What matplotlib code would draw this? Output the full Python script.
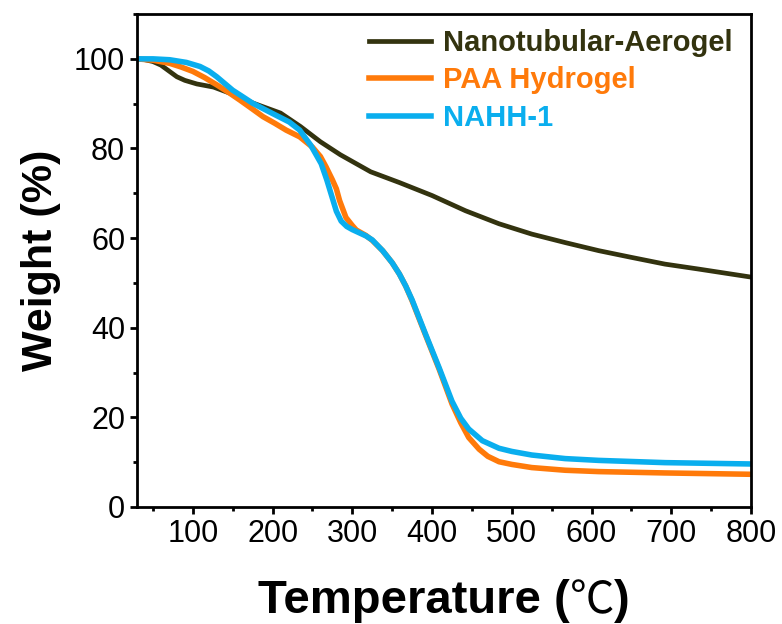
import numpy as np
import matplotlib
matplotlib.use('Agg')
import matplotlib.pyplot as plt
from matplotlib.ticker import MultipleLocator

# colours
Olive = '#33330f'
Orange = '#ff7a0a'
Sky = '#0aaeee'

# Nanotubular-Aerogel
t_aero = [30, 40, 50, 60, 70, 80, 90, 105, 126, 147, 176, 210, 235, 260, 285,
          323, 359, 400, 442, 484, 525, 567, 609, 650, 692, 734, 800]
w_aero = [100, 99.8, 99.4, 98.6, 97.3, 96.0, 95.2, 94.4, 93.7, 92.3, 90.1, 87.9,
          84.9, 81.5, 78.6, 74.8, 72.4, 69.5, 66.1, 63.2, 60.9, 59.0, 57.2, 55.7,
          54.2, 53.1, 51.3]

# PAA Hydrogel
t_paa = [30, 50, 71, 85, 100, 115, 130, 145, 159, 174, 188, 203, 217, 234, 250,
         260, 267, 275, 280, 284, 292, 300, 305, 317, 325, 338, 350, 359, 367,
         375, 392, 409, 425, 436, 446, 459, 470, 484, 500, 525, 567, 609, 692, 800]
w_paa = [100, 99.7, 99.0, 98.2, 97.2, 95.8, 94.2, 92.5, 90.8, 88.9, 87.1, 85.6,
         84.1, 82.6, 80.3, 78.2, 75.9, 73.0, 71.0, 68.4, 64.6, 62.8, 61.8, 60.6,
         59.5, 57.2, 54.5, 52.0, 49.3, 46.0, 38.3, 30.7, 23.0, 18.8, 15.5, 12.9,
         11.3, 10.1, 9.5, 8.8, 8.2, 7.9, 7.6, 7.3]

# NAHH-1
t_nahh = [30, 50, 71, 92, 109, 120, 130, 140, 150, 163, 175, 188, 200, 221, 234,
          248, 261, 268, 274, 280, 286, 293, 300, 317, 325, 338, 350, 359, 367,
          375, 392, 409, 425, 436, 446, 463, 484, 500, 525, 567, 609, 692, 800]
w_nahh = [100, 100, 99.8, 99.2, 98.3, 97.3, 96.0, 94.5, 93.0, 91.5, 90.1, 88.9,
          87.8, 85.9, 84.1, 80.7, 76.6, 73.0, 69.5, 66.0, 63.8, 62.6, 61.9, 60.5,
          59.6, 57.2, 54.5, 52.0, 49.3, 46.2, 38.5, 31.0, 23.6, 19.8, 17.4, 14.8,
          13.1, 12.4, 11.6, 10.8, 10.4, 9.9, 9.6]

plt.rcParams['font.family'] = ['Liberation Sans', 'DejaVu Sans']

fig = plt.figure(figsize=(7.82, 6.24), dpi=100)
ax = fig.add_axes([0.1752, 0.1875, 0.7852, 0.790])

ax.plot(t_aero, w_aero, color=Olive, lw=3.4, label='Nanotubular-Aerogel')
ax.plot(t_paa, w_paa, color=Orange, lw=4, label='PAA Hydrogel')
ax.plot(t_nahh, w_nahh, color=Sky, lw=4, label='NAHH-1')

ax.set_xlim(30, 800)
ax.set_ylim(0, 110)
ax.xaxis.set_major_locator(MultipleLocator(100))
ax.xaxis.set_minor_locator(MultipleLocator(50))
ax.yaxis.set_major_locator(MultipleLocator(20))
ax.yaxis.set_minor_locator(MultipleLocator(10))
ax.set_xticks([100, 200, 300, 400, 500, 600, 700, 800])

for s in ax.spines.values():
    s.set_linewidth(2)
ax.tick_params(which='major', length=5, width=2, labelsize=22, pad=3.5)
ax.tick_params(which='minor', length=3, width=2)

# x label in three pieces so the degree sign can be thin
t1 = fig.text(0.330, 0.0176, 'Temperature (', fontsize=34, fontweight='bold',
              ha='left', va='baseline')
t2 = ax.annotate('\u2103', xy=(1, 0.0176), xycoords=(t1, 'figure fraction'),
                 fontsize=32, fontweight='light', family='Noto Sans CJK SC',
                 ha='left', va='baseline', annotation_clip=False)
t3 = ax.annotate(')', xy=(1, 0.0176), xycoords=(t2, 'figure fraction'),
                 fontsize=34, fontweight='bold', ha='left', va='baseline',
                 annotation_clip=False)
ax.set_ylabel('Weight (%)', fontsize=31, fontweight='bold', labelpad=9)

leg = ax.legend(loc='upper right', frameon=False, labelcolor='linecolor',
                prop={'weight': 'bold', 'size': 21}, handlelength=2.15,
                handletextpad=0.4, labelspacing=0.32,
                bbox_to_anchor=(1.001, 1.008), borderaxespad=0.25)

fig.savefig('out.png', dpi=100)
